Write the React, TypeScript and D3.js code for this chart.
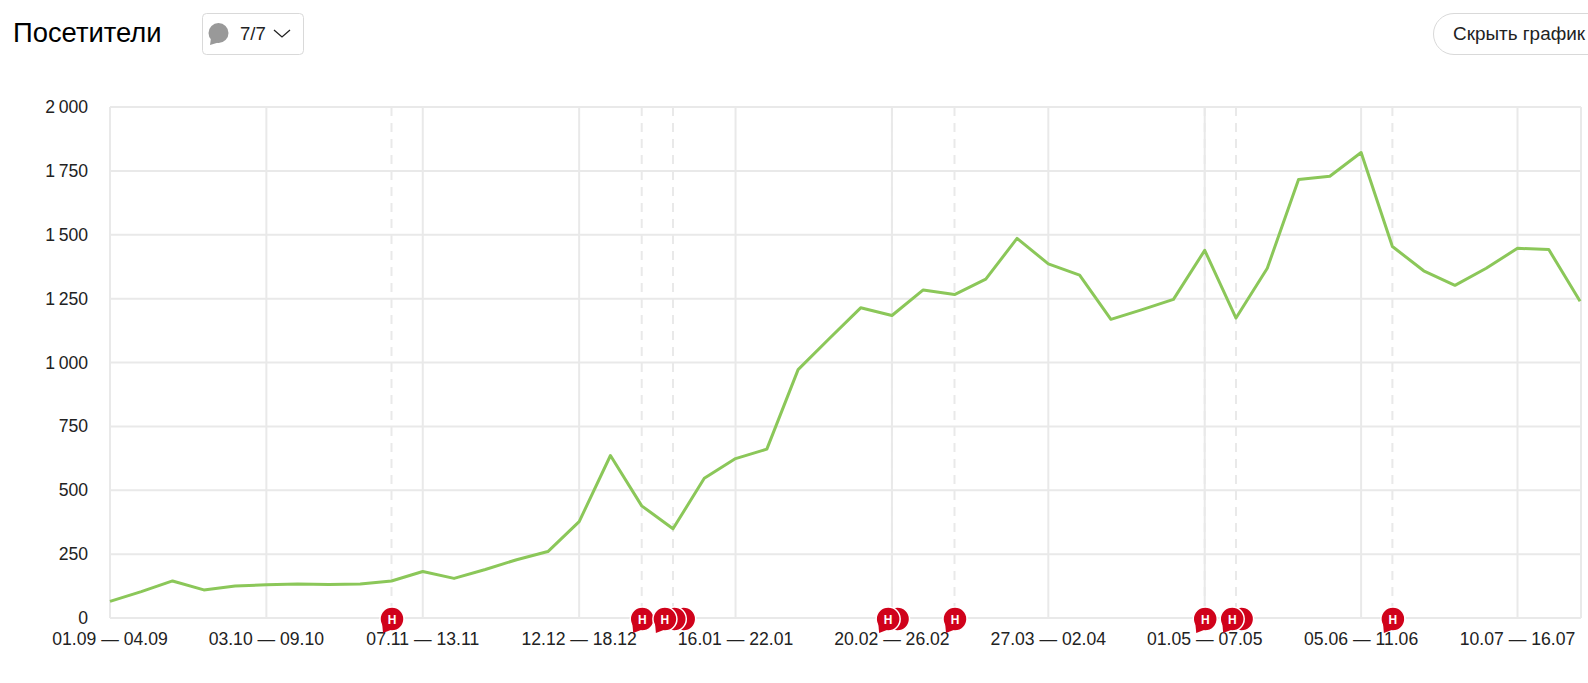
import * as d3 from 'd3';

const yTicks = [0, 250, 500, 750, 1000, 1250, 1500, 1750, 2000];
const weekLabels = [
  '01.09 — 04.09', '03.10 — 09.10', '07.11 — 13.11', '12.12 — 18.12', '16.01 — 22.01',
  '20.02 — 26.02', '27.03 — 02.04', '01.05 — 07.05', '05.06 — 11.06', '10.07 — 16.07',
];
const visitors = [
  65, 103, 145, 110, 125, 130, 133, 131, 133, 145, 182, 155, 190, 228, 260, 377,
  636, 439, 349, 547, 624, 661, 972, 1094, 1214, 1184, 1284, 1266, 1326, 1486, 1386, 1342,
  1169, 1207, 1247, 1439, 1174, 1369, 1716, 1729, 1822, 1454, 1359, 1302, 1369, 1447, 1442, 1240,
];
// week index of a note and how many notes are stacked there
const noteWeeks = [9, 17, 18, 25, 27, 35, 36, 41];
const noteCounts = [1, 1, 3, 2, 1, 1, 2, 1];

const width = 1588;
const height = 683;
const margin = { top: 107, right: 7, bottom: 65, left: 110 };

const x = d3.scaleLinear().domain([0, 47.03]).range([margin.left, width - margin.right]);
const y = d3.scaleLinear().domain([0, 2000]).range([height - margin.bottom, margin.top]);
const line = d3.line<number>().x((_, i) => x(i)).y(d => y(d));

const font = '"Liberation Sans", Arial, sans-serif';
const gridColor = '#e9e9e9';
const noteRed = '#d0021b';
const tickSize = 17.6;

const Note = ({ cx, cy, front }: { cx: number; cy: number; front: boolean }) => (
  <g transform={`translate(${cx},${cy})`}>
    <circle r={12} fill={noteRed} stroke="#fff" strokeWidth={1.5} />
    {front && <path d="M-10,3 L-9,14 L0,10.5 Z" fill={noteRed} />}
    {front && (
      <text y={5} textAnchor="middle" fontSize={12} fontWeight={700} fill="#fff">Н</text>
    )}
  </g>
);

export default function App() {
  return (
    <svg
      width={width}
      height={height}
      fontFamily={font}
      style={{ position: 'absolute', left: 0, top: 0 }}
    >
      <text x={13} y={42} fontSize={27.4} fill="#000">Посетители</text>

      <rect x={202.5} y={13.5} width={101} height={41} rx={4} fill="#fff" stroke="#d9d9d9" />
      <circle cx={218.5} cy={33} r={10} fill="#999" />
      <path d="M211,38 L210,45 L220,42 Z" fill="#999" />
      <text x={240} y={40} fontSize={18.6} fill="#222">7/7</text>
      <path d="M274,30 L282,37 L290,30" fill="none" stroke="#222" strokeWidth={1.3} />

      <rect x={1433.5} y={13.5} width={200} height={41} rx={20.5} fill="#fff" stroke="#d9d9d9" />
      <text x={1453} y={40} fontSize={18.9} fill="#222">Скрыть график</text>

      {yTicks.map(t => (
        <g key={t}>
          <line x1={margin.left} x2={width - margin.right} y1={y(t)} y2={y(t)} stroke={gridColor} strokeWidth={2} />
          <text x={88} y={y(t) + 6} textAnchor="end" fontSize={tickSize} fill="#222">
            {d3.format(',')(t).replace(',', '\u2009')}
          </text>
        </g>
      ))}

      {weekLabels.map((label, i) => (
        <g key={label}>
          <line x1={x(i * 5)} x2={x(i * 5)} y1={margin.top} y2={y(0)} stroke={gridColor} strokeWidth={2} />
          <text x={x(i * 5)} y={645} textAnchor="middle" fontSize={tickSize} fill="#222">{label}</text>
        </g>
      ))}
      <line x1={width - margin.right} x2={width - margin.right} y1={margin.top} y2={y(0)} stroke={gridColor} strokeWidth={2} />

      {noteWeeks.map(w => (
        <line key={w} x1={x(w)} x2={x(w)} y1={margin.top} y2={y(0)} stroke={gridColor} strokeWidth={2} strokeDasharray="9,7" />
      ))}

      <path d={line(visitors) ?? ''} fill="none" stroke="#8bc759" strokeWidth={3} strokeLinejoin="round" />

      {noteWeeks.map((w, i) =>
        d3.range(noteCounts[i] - 1, -1, -1).map(k => (
          <Note
            key={`${w}-${k}`}
            cx={x(w) + 0.5 + k * 9.4 - (noteCounts[i] - 1) * 4.3}
            cy={619}
            front={k === 0}
          />
        ))
      )}
    </svg>
  );
}
